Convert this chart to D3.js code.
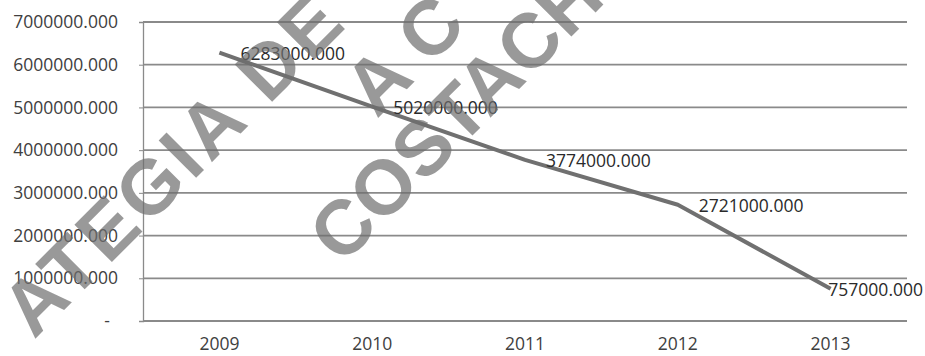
<!DOCTYPE html>
<html><head><meta charset="utf-8">
<script src="https://cdn.jsdelivr.net/npm/d3@7"></script>
<style>html,body{margin:0;padding:0;background:#fff;}svg{display:block;}</style>
</head><body>
<svg id="c" width="925" height="356"></svg>
<script>
const years = ["2009","2010","2011","2012","2013"];
const values = [6283000, 5020000, 3774000, 2721000, 757000];
const yTicks = [0,1000000,2000000,3000000,4000000,5000000,6000000,7000000];
const watermarkLines = ["ATEGIA DE", "A C", "COSTACH"];

const W = 925, H = 356;
const m = {left:143, right:18, top:22, bottom:35};
const svg = d3.select("#c");
const font = "'Open Sans', sans-serif";
const fs = 17.5;
const fmt = v => v === 0 ? "-" : d3.format(".3f")(v);

const x = d3.scaleBand().domain(years).range([m.left, W - m.right]);
const y = d3.scaleLinear().domain([0, 7000000]).range([H - m.bottom, m.top]);

// gridlines
svg.append("g").selectAll("line").data(yTicks).join("line")
  .attr("x1", m.left).attr("x2", W - m.right)
  .attr("y1", d => y(d)).attr("y2", d => y(d))
  .attr("stroke", "#8a8a8a").attr("stroke-width", 1.8);

// y axis
const yAxis = svg.append("g").attr("transform", `translate(${m.left},0)`)
  .call(d3.axisLeft(y).tickValues(yTicks).tickFormat(fmt).tickSize(4).tickPadding(21));
yAxis.select(".domain").attr("stroke", "#8a8a8a").attr("stroke-width", 1.3);
yAxis.selectAll(".tick line").attr("stroke", "#8a8a8a");
yAxis.selectAll("text").attr("font-family", font).attr("font-size", fs).attr("fill", "#404040");
yAxis.selectAll(".tick").filter(d => d === 0).select("text").attr("dx", -8);

// x axis labels
const xAxis = svg.append("g").attr("transform", `translate(0,${H - m.bottom})`)
  .call(d3.axisBottom(x).tickSize(0).tickPadding(17));
xAxis.select(".domain").remove();
xAxis.selectAll("text").attr("font-family", font).attr("font-size", fs).attr("fill", "#404040");

// line
const pts = years.map((yr, i) => ({yr, v: values[i]}));
svg.append("path").datum(pts)
  .attr("fill", "none").attr("stroke", "#707070").attr("stroke-width", 4).attr("stroke-linejoin", "round")
  .attr("d", d3.line().x(d => x(d.yr) + x.bandwidth()/2).y(d => y(d.v)));

// data labels
svg.append("g").selectAll("text").data(pts).join("text")
  .attr("font-family", font).attr("font-size", fs).attr("fill", "#2a2a2a")
  .attr("dominant-baseline", "central")
  .attr("x", (d, i) => i === pts.length - 1 ? W - 2 : x(d.yr) + x.bandwidth()/2 + 21)
  .attr("text-anchor", (d, i) => i === pts.length - 1 ? "end" : "start")
  .attr("y", d => y(d.v))
  .text(d => fmt(d.v));

// watermark
const wm = svg.append("g").attr("fill", "#6e6e6e").attr("fill-opacity", 0.7)
  .attr("font-family", "'Liberation Sans', Arial, sans-serif").attr("font-weight", "bold").attr("font-size", 77);
const wmPos = [[34, 340], [376.8, 119.2], [341.8, 266.2]];
const wmSpacing = [4, 0, 0];
wm.selectAll("text").data(watermarkLines).join("text")
  .attr("transform", (d, i) => `translate(${wmPos[i][0]},${wmPos[i][1]}) rotate(-45)`)
  .attr("letter-spacing", (d, i) => wmSpacing[i])
  .text(d => d);
</script>
</body></html>
